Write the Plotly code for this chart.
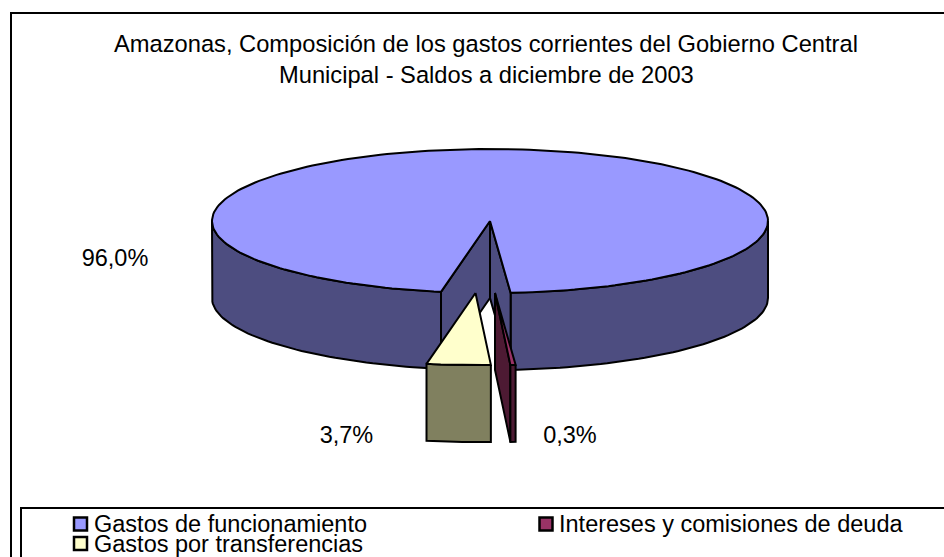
import numpy as np
import plotly.graph_objects as go

# --- data -------------------------------------------------------------
categories = ["Gastos de funcionamiento", "Intereses y comisiones de deuda", "Gastos por transferencias"]
shares = [96.0, 0.3, 3.7]
share_labels = ["96,0%", "0,3%", "3,7%"]
title_lines = ["Amazonas, Composición de los gastos corrientes del Gobierno Central",
               "Municipal - Saldos a diciembre de 2003"]

# --- style ------------------------------------------------------------
W, H = 944, 557
FONT = "Liberation Sans"
top_colors = ["#9999FF", "#993366", "#FFFFCC"]
side_colors = ["#4D4D80", "#4D1A33", "#80805F"]
CX, CY, RX, RY, DEPTH = 490, 221, 278, 72, 77
START = 190.15                   # clockwise from north
explode_dx = [0, 5, -14.5]       # exploded-slice offsets in the projected view
explode_dy = [0, 72, 72]
label_xy = [(115, 260), (570, 437), (346.5, 437)]
swatch_xy = [(80.5, 524), (546, 524), (80.5, 543.5)]
legend_text_xy = [(94, 526), (559, 526), (94, 546)]


def pt(phi, dx=0, dy=0):
    a = np.radians(phi)
    return CX + RX * np.sin(a) + dx, CY - RY * np.cos(a) + dy


def arc(a, b, dx=0, dy=0):
    n = max(2, int(abs(b - a) / 1.5) + 2)
    xs, ys = pt(np.linspace(a, b, n), dx, dy)
    return list(xs), list(ys)


fig = go.Figure()


def poly(xs, ys, color):
    fig.add_trace(go.Scatter(x=list(xs) + [xs[0]], y=list(ys) + [ys[0]], mode="lines", fill="toself",
                             fillcolor=color, line=dict(color="black", width=2),
                             hoverinfo="skip", showlegend=False))


def rim(a, b, color, dx=0, dy=0):
    xt, yt = arc(a, b, dx, dy)
    xb, yb = arc(b, a, dx, dy + DEPTH)
    poly(xt + xb, yt + yb, color)


def cut(phi, color, dx=0, dy=0):
    ox, oy = pt(phi, dx, dy)
    ax, ay = CX + dx, CY + dy
    poly([ax, ox, ox, ax], [ay, oy, oy + DEPTH, ay + DEPTH], color)


# angular extents from the shares
spans = [s / sum(shares) * 360 for s in shares]
a0 = START
a1 = a0 + spans[0]
a2 = a1 + spans[1]
a3 = a2 + spans[2]

# main slice: rim (both visible parts), cut faces, top
rim(a0, 270, side_colors[0])
rim(a1 - 360, 90, side_colors[0])
cut(a0, side_colors[0])
cut(a1 - 360, side_colors[0])
xt, yt = arc(a0, a1)
poly([CX] + xt, [CY] + yt, top_colors[0])

# transferencias: front rim, top
i = 2
rim(a2 - 360, a3 - 360, side_colors[i], explode_dx[i], explode_dy[i])
xt, yt = arc(a2 - 360, a3 - 360, explode_dx[i], explode_dy[i])
poly([CX + explode_dx[i]] + xt, [CY + explode_dy[i]] + yt, top_colors[i])

# intereses: cut face, front rim, top
i = 1
cut(a2 - 360, side_colors[i], explode_dx[i], explode_dy[i])
rim(a1 - 360, a2 - 360, side_colors[i], explode_dx[i], explode_dy[i])
xt, yt = arc(a1 - 360, a2 - 360, explode_dx[i], explode_dy[i])
poly([CX + explode_dx[i]] + xt, [CY + explode_dy[i]] + yt, top_colors[i])

# data labels
for lab, (x, y) in zip(share_labels, label_xy):
    fig.add_trace(go.Scatter(x=[x], y=[y], mode="text", text=[lab], textposition="middle center",
                             textfont=dict(family=FONT, size=23.5, color="black"),
                             hoverinfo="skip", showlegend=False))

# legend entries
for name, col, (sx, sy), (tx, ty) in zip(categories, top_colors, swatch_xy, legend_text_xy):
    fig.add_trace(go.Scatter(x=[sx], y=[sy], mode="markers",
                             marker=dict(symbol="square", size=13, color=col, line=dict(color="black", width=2.5)),
                             hoverinfo="skip", showlegend=False))
    fig.add_trace(go.Scatter(x=[tx], y=[ty], mode="text", text=[name], textposition="middle right",
                             textfont=dict(family=FONT, size=23.5, color="black"),
                             hoverinfo="skip", showlegend=False))

shapes = [
    dict(type="rect", x0=11, y0=13, x1=W + 5, y1=H + 5, line=dict(color="black", width=2), xref="x", yref="y"),
    dict(type="rect", x0=21, y0=508, x1=W + 5, y1=H + 5, line=dict(color="black", width=2), xref="x", yref="y"),
]
annotations = [
    dict(x=486, y=44 + 31 * k, xref="x", yref="y", text=t, showarrow=False, xanchor="center", yanchor="middle",
         font=dict(family=FONT, size=23.7, color="black"))
    for k, t in enumerate(title_lines)
]

fig.update_layout(
    width=W, height=H, margin=dict(l=0, r=0, t=0, b=0), paper_bgcolor="white", plot_bgcolor="white",
    showlegend=False, shapes=shapes, annotations=annotations,
    xaxis=dict(range=[0, W], visible=False, fixedrange=True),
    yaxis=dict(range=[H, 0], visible=False, fixedrange=True),
)
fig.write_html("out.html", config=dict(displayModeBar=False),
               post_script="document.body.style.margin='0';document.body.style.overflow='hidden';")
